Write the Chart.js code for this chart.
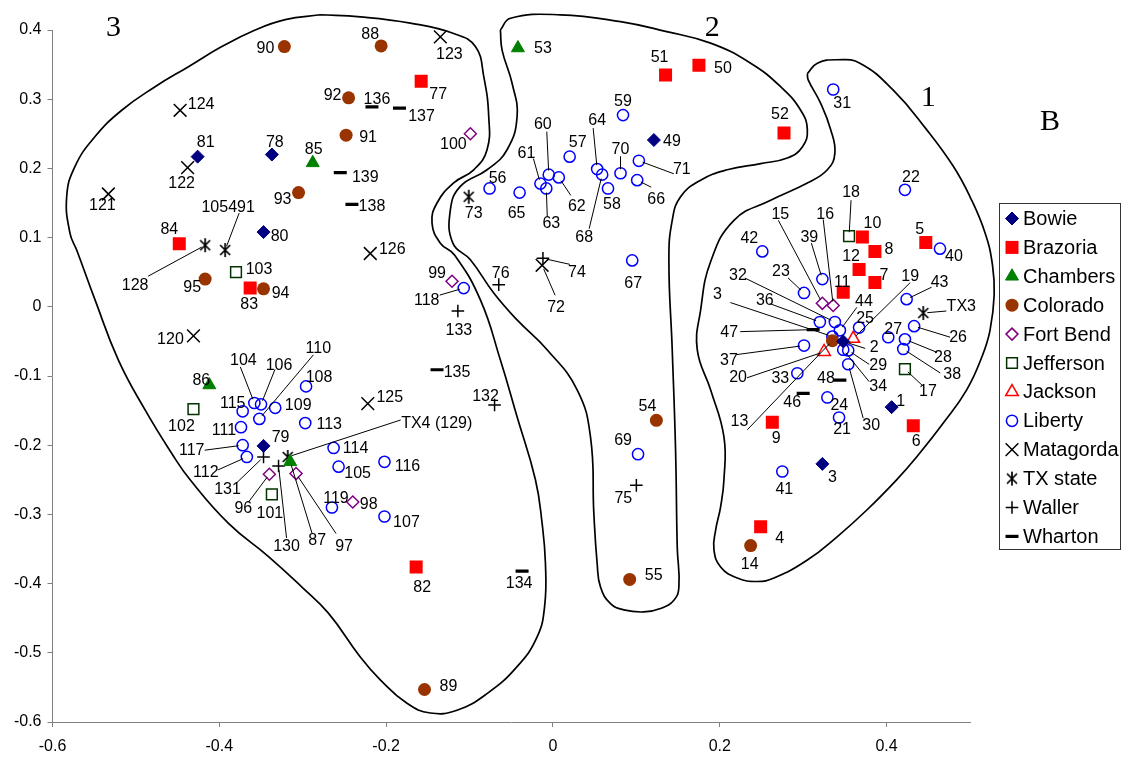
<!DOCTYPE html>
<html><head><meta charset="utf-8">
<script src="https://cdn.jsdelivr.net/npm/chart.js@4"></script>
<style>html,body{margin:0;padding:0;background:#fff}#wrap{width:1122px;height:757px}</style>
</head><body><div id="wrap"><canvas id="c" width="1122" height="757"></canvas></div>
<script>
// ---------- data ----------
const xTicks = [-0.6,-0.4,-0.2,0,0.2,0.4];
const yTicks = [0.4,0.3,0.2,0.1,0,-0.1,-0.2,-0.3,-0.4,-0.5,-0.6];

const bowieIds = ['81','78','80','79','49','2','1','3'];
const bowieX = [-0.426,-0.337,-0.347,-0.347,0.121,0.348,0.406,0.323];
const bowieY = [0.217,0.220,0.108,-0.201,0.241,-0.050,-0.145,-0.227];

const brazoriaIds = ['84','83','77','82','51','50','52','10','8','5','12','7','11','9','6','4'];
const brazoriaX = [-0.448,-0.363,-0.158,-0.164,0.135,0.175,0.277,0.371,0.386,0.447,0.367,0.386,0.348,0.263,0.432,0.249];
const brazoriaY = [0.091,0.027,0.326,-0.376,0.335,0.349,0.251,0.101,0.080,0.093,0.054,0.035,0.021,-0.167,-0.172,-0.318];

const chambersIds = ['85','86','87','53'];
const chambersX = [-0.288,-0.412,-0.315,-0.042];
const chambersY = [0.208,-0.113,-0.224,0.374];

const coloradoIds = ['90','88','92','91','93','95','94','89','54','55','14','13'];
const coloradoX = [-0.322,-0.206,-0.245,-0.248,-0.305,-0.417,-0.347,-0.154,0.124,0.092,0.237,0.335];
const coloradoY = [0.376,0.377,0.302,0.248,0.165,0.040,0.026,-0.553,-0.164,-0.394,-0.345,-0.049];

const fortBendIds = ['100','99','96','97','98','15','16'];
const fortBendX = [-0.099,-0.121,-0.340,-0.308,-0.240,0.323,0.336];
const fortBendY = [0.250,0.037,-0.242,-0.241,-0.282,0.005,0.002];

const jeffersonIds = ['103','102','101','18','17'];
const jeffersonX = [-0.380,-0.431,-0.337,0.355,0.422];
const jeffersonY = [0.050,-0.148,-0.271,0.102,-0.090];

const jacksonIds = ['19','20'];
const jacksonX = [0.360,0.325];
const jacksonY = [-0.046,-0.065];

const libertyIds = ['108','113','109','104','106','110','115','111','117','112','114','105','119','116','107','118','59','57','56','65','60','61','63','62','64','68','58','70','71','66','67','69','31','22','42','40','39','23','32','36','3','44','25','27','43','26','28','38','37','29','34','30','33','24','21','41'];
const libertyX = [-0.296,-0.297,-0.333,-0.358,-0.350,-0.352,-0.372,-0.374,-0.372,-0.367,-0.263,-0.257,-0.265,-0.202,-0.202,-0.107,0.084,0.020,-0.076,-0.040,-0.005,-0.015,-0.008,0.007,0.053,0.059,0.066,0.081,0.103,0.101,0.095,0.102,0.336,0.422,0.251,0.464,0.323,0.301,0.338,0.320,0.335,0.344,0.367,0.402,0.424,0.433,0.422,0.420,0.301,0.354,0.348,0.354,0.293,0.329,0.343,0.275];
const libertyY = [-0.115,-0.168,-0.146,-0.139,-0.141,-0.162,-0.151,-0.174,-0.200,-0.217,-0.204,-0.231,-0.290,-0.224,-0.303,0.027,0.277,0.217,0.171,0.165,0.191,0.178,0.171,0.187,0.199,0.191,0.171,0.193,0.211,0.183,0.067,-0.213,0.314,0.169,0.080,0.084,0.040,0.020,-0.022,-0.022,-0.043,-0.034,-0.030,-0.044,0.011,-0.028,-0.047,-0.061,-0.056,-0.063,-0.062,-0.083,-0.096,-0.131,-0.160,-0.238];

const matagordaIds = ['124','122','121','123','126','120','125','72'];
const matagordaX = [-0.447,-0.438,-0.533,-0.135,-0.219,-0.431,-0.222,-0.013];
const matagordaY = [0.284,0.201,0.163,0.390,0.077,-0.042,-0.140,0.060];

const txIds = ['128','105491','73','TX4 (129)','TX3'];
const txX = [-0.417,-0.393,-0.101,-0.318,0.444];
const txY = [0.089,0.082,0.159,-0.217,-0.009];

const wallerIds = ['133','76','74','132','75','131','130'];
const wallerX = [-0.114,-0.065,-0.012,-0.070,0.100,-0.347,-0.329];
const wallerY = [-0.006,0.032,0.070,-0.142,-0.258,-0.217,-0.230];

const whartonIds = ['136','137','139','138','135','134','47','48','46'];
const whartonX = [-0.217,-0.184,-0.255,-0.241,-0.139,-0.037,0.312,0.344,0.300];
const whartonY = [0.289,0.287,0.194,0.148,-0.091,-0.382,-0.033,-0.106,-0.125];

// group outlines (data coordinates)
const outline1X = [0.305,0.317,0.341,0.368,0.408,0.448,0.480,0.500,0.518,0.527,0.529,0.524,0.515,0.496,0.468,0.436,0.412,0.376,0.341,0.305,0.265,0.245,0.221,0.201,0.193,0.195,0.201,0.205,0.205,0.189,0.173,0.177,0.189,0.217,0.261,0.305,0.329,0.338,0.333,0.321,0.306,0.305];
const outline1Y = [0.337,0.352,0.357,0.352,0.313,0.256,0.203,0.159,0.107,0.060,0.017,-0.034,-0.070,-0.120,-0.168,-0.217,-0.250,-0.294,-0.332,-0.366,-0.392,-0.397,-0.392,-0.376,-0.351,-0.323,-0.289,-0.250,-0.188,-0.120,-0.062,-0.005,0.065,0.125,0.154,0.179,0.198,0.222,0.256,0.294,0.328,0.337];
const outline2X = [-0.063,-0.051,0.009,0.081,0.135,0.189,0.237,0.273,0.297,0.305,0.299,0.281,0.249,0.209,0.177,0.153,0.143,0.139,0.143,0.147,0.149,0.151,0.145,0.129,0.109,0.085,0.069,0.057,0.053,0.049,0.045,0.029,-0.007,-0.043,-0.071,-0.099,-0.120,-0.123,-0.111,-0.079,-0.055,-0.043,-0.049,-0.061,-0.063];
const outline2Y = [0.400,0.417,0.422,0.412,0.398,0.381,0.352,0.318,0.284,0.256,0.231,0.215,0.207,0.198,0.183,0.159,0.125,0.068,-0.062,-0.207,-0.347,-0.405,-0.424,-0.436,-0.441,-0.438,-0.429,-0.405,-0.371,-0.298,-0.188,-0.120,-0.062,-0.019,0.020,0.068,0.092,0.140,0.174,0.198,0.227,0.275,0.323,0.371,0.400];
const outline3X = [-0.279,-0.231,-0.171,-0.119,-0.093,-0.083,-0.077,-0.079,-0.095,-0.119,-0.139,-0.145,-0.135,-0.118,-0.087,-0.063,-0.043,-0.021,-0.013,-0.009,-0.010,-0.019,-0.043,-0.079,-0.115,-0.147,-0.175,-0.207,-0.231,-0.269,-0.301,-0.341,-0.389,-0.435,-0.457,-0.489,-0.521,-0.549,-0.571,-0.579,-0.583,-0.573,-0.549,-0.517,-0.477,-0.437,-0.397,-0.357,-0.321,-0.279];
const outline3Y = [0.422,0.419,0.410,0.395,0.376,0.333,0.275,0.227,0.198,0.179,0.150,0.121,0.092,0.075,0.010,-0.077,-0.159,-0.250,-0.313,-0.371,-0.433,-0.477,-0.520,-0.559,-0.583,-0.587,-0.573,-0.539,-0.506,-0.443,-0.405,-0.361,-0.313,-0.250,-0.212,-0.149,-0.077,0.010,0.082,0.106,0.159,0.203,0.246,0.284,0.318,0.347,0.376,0.400,0.415,0.422];

const regionLabels = ['3','2','1','B'];
const regionX = [-0.527,0.191,0.450,0.596];
const regionY = [0.403,0.403,0.302,0.267];

// ---------- label placement: pixel offset of label centre from marker [dx,dy] (+ optional leader start [lx,ly]) ----------
const bowiePlace = [[8,-14],[3,-12],[16,5],[17,-8],[18,2],[31,6,22,7],[9,-6],[10,14]];
const brazoriaPlace = [[-10,-14],[-1,16],[17,13],[6,21],[-6,-17],[24,3],[-4,-19],[10,-13],[14,-2],[-6,-13],[-8,-13],[9,-7],[-1,-10],[4,16],[3,16],[19,12]];
const chambersPlace = [[1,-13],[-8,-4],[27,79,22,72],[25,1]];
const coloradoPlace = [[-19,2],[-11,-11],[-16,-2],[22,2],[-16,7],[-13,8],[17,5],[24,-3],[-9,-14],[24,-4],[-1,19],[-93,81,-85,89]];
const fortBendPlace = [[-17,11],[-15,-8],[-26,34,-21,28],[48,73,40,60],[16,3],[-42,-89,-44,-83],[-8,-91,-10,-86]];
const jeffersonPlace = [[23,-3],[-12,17],[-2,19],[2,-44,2,-36],[23,23,17,16]];
const jacksonPlace = [[57,-62,57,-56],[-86,26,-77,26]];
const libertyPlace = [
 [13,-9],[24,2],[23,-2],[-11,-42,-14,-36],[18,-39,14,-35],[59,-70,54,-64],[-10,-8],[-17,3],[-51,5,-38,5],[-41,16,-29,13],
 [22,1],[19,7],[4,-9],[23,5],[22,6],[-37,12,-24,7],
 [0,-14],[8,-14],[8,-10],[-3,21],[-6,-50,-2,-43],[-14,-30,-7,-25],[5,35,1,28],[18,29,12,18],[0,-48,-4,-41],[-18,63,-13,54],
 [4,16],[0,-24,0,-17],[43,9,35,13],[19,19,14,7],[1,23],[-15,-14],
 [9,14],[6,-12],[-13,-13],[14,8],[-13,-42,-11,-36],[-23,-21,-16,-15],[-97,-46,-90,-44],[-55,-21,-49,-18],[-115,-42,-102,-34],[24,-29,17,-23],
 [6,-9],[5,-8],[33,-17,25,-12],[44,11,36,11],[38,18,32,13],[49,26,37,24],[-75,15,-67,9],[30,15,21,14],[35,37,26,32],[23,61,15,54],
 [-17,5],[12,8],[3,12],[2,18]];
const matagordaPlace = [[21,-6],[-6,16],[-6,12],[9,18],[22,-4],[-23,4],[22,-6],[14,42,13,30]];
const txPlace = [[-70,40,-57,31],[3,-42,14,-37],[5,17],[149,-33,113,-37],[38,-6,23,-2]];
const wallerPlace = [[1,20],[2,-11],[34,14,27,6],[-9,-8],[-13,13],[-36,33,-27,26],[8,81,8,72]];
const whartonPlace = [[5,-7],[22,8],[25,5],[20,2],[20,3],[-3,12],[-84,3,-73,2],[-14,-2],[-11,9]];

// ---------- styles ----------
function makeAsterisk(){
  const c=document.createElement('canvas'); c.width=16; c.height=16;
  const g=c.getContext('2d'); g.strokeStyle='#000'; g.lineWidth=1.7;
  g.beginPath();
  g.moveTo(3,3); g.lineTo(13,13);
  g.moveTo(13,3); g.lineTo(3,13);
  g.moveTo(8,1); g.lineTo(8,15);
  g.stroke();
  return c;
}
const asterisk = makeAsterisk();
const NONE='rgba(0,0,0,0)';

const series = [
 {name:'Bowie', ids:bowieIds, xs:bowieX, ys:bowieY, place:bowiePlace, style:'rectRot', r:6.5, fill:'#000080', stroke:'#000080', bw:1},
 {name:'Brazoria', ids:brazoriaIds, xs:brazoriaX, ys:brazoriaY, place:brazoriaPlace, style:'rect', r:9.2, fill:'#FF0000', stroke:'#FF0000', bw:0},
 {name:'Chambers', ids:chambersIds, xs:chambersX, ys:chambersY, place:chambersPlace, style:'triangle', r:7.5, fill:'#008000', stroke:'#008000', bw:1},
 {name:'Colorado', ids:coloradoIds, xs:coloradoX, ys:coloradoY, place:coloradoPlace, style:'circle', r:6.5, fill:'#993300', stroke:'#993300', bw:0},
 {name:'Fort Bend', ids:fortBendIds, xs:fortBendX, ys:fortBendY, place:fortBendPlace, style:'rectRot', r:6, fill:NONE, stroke:'#800080', bw:1.5},
 {name:'Jefferson', ids:jeffersonIds, xs:jeffersonX, ys:jeffersonY, place:jeffersonPlace, style:'rect', r:7.6, fill:NONE, stroke:'#003300', bw:1.5},
 {name:'Jackson', ids:jacksonIds, xs:jacksonX, ys:jacksonY, place:jacksonPlace, style:'triangle', r:7.3, fill:NONE, stroke:'#FF0000', bw:1.5},
 {name:'Liberty', ids:libertyIds, xs:libertyX, ys:libertyY, place:libertyPlace, style:'circle', r:5.6, fill:NONE, stroke:'#0000FF', bw:1.5},
 {name:'Matagorda', ids:matagordaIds, xs:matagordaX, ys:matagordaY, place:matagordaPlace, style:'crossRot', r:9, fill:NONE, stroke:'#000', bw:1.5},
 {name:'TX state', ids:txIds, xs:txX, ys:txY, place:txPlace, style:asterisk, r:7, fill:NONE, stroke:'#000', bw:1.5},
 {name:'Waller', ids:wallerIds, xs:wallerX, ys:wallerY, place:wallerPlace, style:'cross', r:6.3, fill:NONE, stroke:'#000', bw:1.5},
 {name:'Wharton', ids:whartonIds, xs:whartonX, ys:whartonY, place:whartonPlace, style:'line', r:6.5, fill:'#000', stroke:'#000', bw:3.2}
];

const datasets = series.map(s=>({
  label:s.name, ids:s.ids, place:s.place,
  data:s.xs.map((x,i)=>({x:x,y:s.ys[i]})),
  pointStyle:s.style, pointRadius:s.r, pointHoverRadius:s.r,
  backgroundColor:s.fill, borderColor:s.stroke, pointBorderWidth:s.bw, borderWidth:s.bw,
  showLine:false
}));
[[outline1X,outline1Y],[outline2X,outline2Y],[outline3X,outline3Y]].forEach(o=>{
  datasets.push({label:'', outline:true, data:o[0].map((x,i)=>({x:x,y:o[1][i]})),
    showLine:true, pointRadius:0, borderColor:'#000', borderWidth:1.7, tension:0.45,
    capBezierPoints:false, clip:false, fill:false});
});

const FONT='"Liberation Sans", Arial, sans-serif';
Chart.defaults.font.family = FONT;
const fmt = v => { const r=Math.round(v*10)/10; return (r===0?0:r).toString(); };

const labelPlugin = {
  id:'pointLabels',
  afterDatasetsDraw(chart){
    const ctx=chart.ctx; ctx.save();
    ctx.font='16px '+FONT; ctx.fillStyle='#000'; ctx.strokeStyle='#000'; ctx.lineWidth=1;
    ctx.textAlign='center'; ctx.textBaseline='middle';
    chart.data.datasets.forEach((ds,di)=>{
      if(!ds.ids) return;
      const meta=chart.getDatasetMeta(di);
      meta.data.forEach((el,i)=>{
        const p=ds.place[i], px=el.x, py=el.y;
        if(p.length>2){
          const sx=px+p[2], sy=py+p[3];
          const dx=px-sx, dy=py-sy, d=Math.hypot(dx,dy)||1;
          ctx.beginPath(); ctx.moveTo(sx,sy); ctx.lineTo(px-dx/d*4, py-dy/d*4); ctx.stroke();
        }
        ctx.fillText(ds.ids[i], px+p[0], py+p[1]);
      });
    });
    ctx.font='30px "Liberation Serif", "Times New Roman", serif';
    const xs=chart.scales.x, ys=chart.scales.y;
    regionLabels.forEach((t,i)=>ctx.fillText(t, xs.getPixelForValue(regionX[i]), ys.getPixelForValue(regionY[i])));
    ctx.restore();
  }
};

const legendPlugin = {
  id:'boxLegend',
  afterDraw(chart){
    const ctx=chart.ctx; ctx.save();
    ctx.strokeStyle='#333'; ctx.lineWidth=1;
    ctx.strokeRect(999.5,203.5,121,346);
    ctx.font='20px '+FONT; ctx.textAlign='left'; ctx.textBaseline='middle';
    let k=0;
    chart.data.datasets.forEach(ds=>{
      if(!ds.ids) return;
      const y=218.5+k*28.9; k++;
      ctx.fillStyle=ds.backgroundColor; ctx.strokeStyle=ds.borderColor; ctx.lineWidth=ds.borderWidth;
      Chart.helpers.drawPoint(ctx,{pointStyle:ds.pointStyle, radius:ds.pointRadius, rotation:0, borderWidth:ds.borderWidth},1012,y);
      ctx.fillStyle='#000';
      ctx.fillText(ds.label,1023,y+1);
    });
    ctx.restore();
  }
};

new Chart(document.getElementById('c'),{
  type:'scatter',
  data:{datasets:datasets},
  options:{
    responsive:false, animation:false, devicePixelRatio:1,
    layout:{padding:{left:0,top:30,right:152,bottom:0}},
    plugins:{legend:{display:false}, tooltip:{enabled:false}},
    events:[],
    scales:{
      x:{type:'linear', min:-0.6, max:0.5,
        afterBuildTicks:s=>{s.ticks=xTicks.map(v=>({value:v}));},
        afterFit:s=>{s.height=35;},
        grid:{drawOnChartArea:false, drawTicks:true, tickLength:5, color:'#808080'},
        border:{display:true, color:'#808080', width:1},
        ticks:{color:'#000', font:{size:16}, padding:10, maxRotation:0, callback:v=>fmt(v)}
      },
      y:{type:'linear', min:-0.6, max:0.4,
        afterBuildTicks:s=>{s.ticks=yTicks.map(v=>({value:v}));},
        afterFit:s=>{s.width=52.5;},
        grid:{drawOnChartArea:false, drawTicks:true, tickLength:5, color:'#808080'},
        border:{display:true, color:'#808080', width:1},
        ticks:{color:'#000', font:{size:16}, padding:6, callback:v=>fmt(v)}
      }
    }
  },
  plugins:[labelPlugin, legendPlugin]
});
</script></body></html>
